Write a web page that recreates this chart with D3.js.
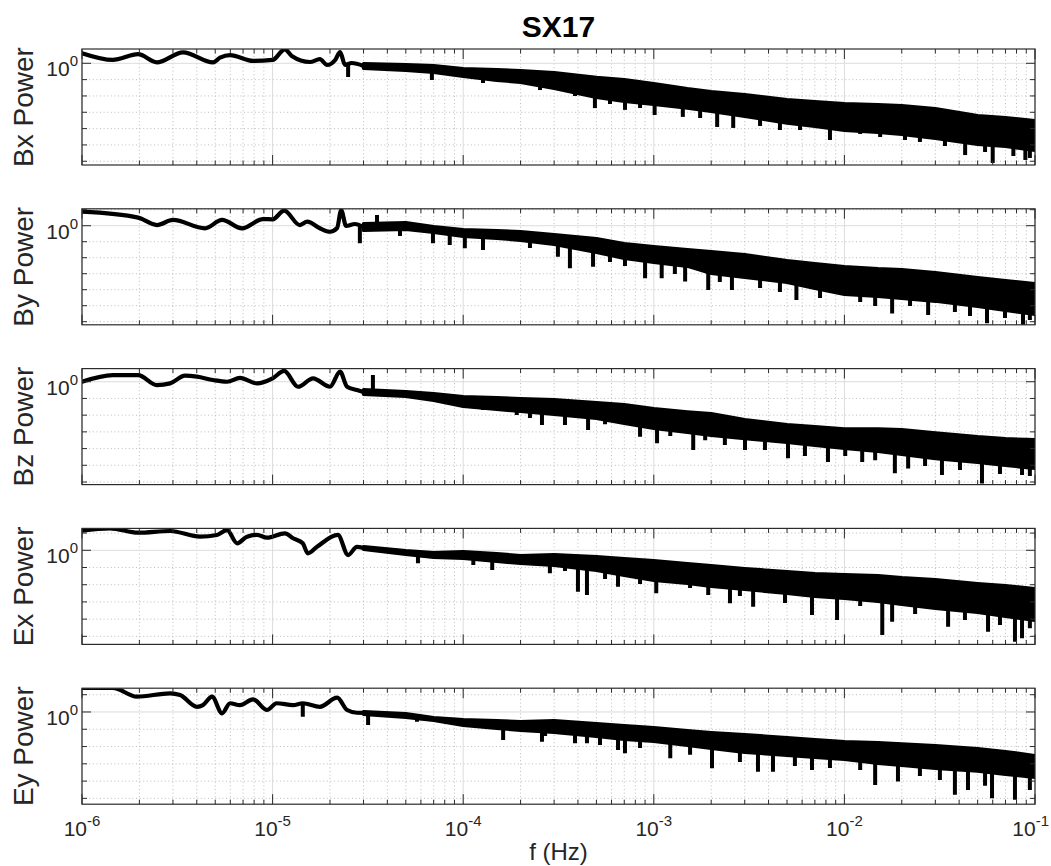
<!DOCTYPE html>
<html>
<head>
<meta charset="utf-8">
<script src="https://cdn.jsdelivr.net/npm/d3@7"></script>
<style>
  html, body { margin: 0; padding: 0; background: #fff; }
  svg { display: block; font-family: "Liberation Sans", Arial, Helvetica, sans-serif; }
</style>
</head>
<body>
<svg id="chart" width="1051" height="866"></svg>
<script>
// ---- Chart text ----
const chartTitle = "SX17";
const panelLabels = ["Bx Power", "By Power", "Bz Power", "Ex Power", "Ey Power"];
const xAxisLabel = "f (Hz)";
const xDomain = [1e-6, 1e-1];

// y-axis limits of each panel (power)
const bxLimits = [5.9e-7, 7.5];
const byLimits = [6.4e-7, 11.4];
const bzLimits = [7.0e-7, 6.1];
const exLimits = [3.4e-6, 18.7];
const eyLimits = [4.6e-6, 23.8];

// ---- Low-frequency part of each spectrum: [frequency (Hz), power] ----
const bxLine = [[1e-6, 4.1], [1.45e-6, 1.6], [1.97e-6, 3.6], [2.47e-6, 1.15], [3.39e-6, 4.7], [4.87e-6, 1.15],
  [5.3e-6, 2.2], [5.98e-6, 3.2], [7.89e-6, 1.4], [1e-5, 1.6], [1.16e-5, 7.2], [1.26e-5, 2.8], [1.57e-5, 1.2],
  [1.77e-5, 1.8], [1.93e-5, 0.79], [2.13e-5, 1.6], [2.26e-5, 4.9], [2.4e-5, 0.79], [2.6e-5, 1.04], [3e-5, 0.68]];
const byLine = [[1e-6, 7.5], [1.97e-6, 3.2], [2.47e-6, 1.1], [3.0e-6, 2.3], [4.42e-6, 0.69], [5.43e-6, 2.3],
  [6.91e-6, 0.69], [8.9e-6, 2.6], [1e-5, 2.5], [1.15e-5, 8.7], [1.39e-5, 1.1], [1.52e-5, 1.8], [1.77e-5, 0.69],
  [2.0e-5, 0.42], [2.18e-5, 0.72], [2.29e-5, 9.6], [2.43e-5, 0.96], [2.7e-5, 1.28], [3e-5, 0.82]];
const bzLine = [[1e-6, 1.0], [1.45e-6, 2.5], [1.97e-6, 2.5], [2.47e-6, 0.63], [2.9e-6, 0.80], [3.47e-6, 2.3],
  [4.01e-6, 2.0], [4.87e-6, 1.26], [5.77e-6, 1.0], [6.74e-6, 1.7], [8.28e-6, 0.80], [1e-5, 1.6], [1.15e-5, 4.4],
  [1.36e-5, 0.50], [1.63e-5, 1.6], [2.0e-5, 0.5], [2.26e-5, 4.0], [2.46e-5, 0.5], [2.77e-5, 0.32], [3e-5, 0.24]];
const exLine = [[1e-6, 13.8], [1.40e-6, 19], [1.97e-6, 10.5], [2.9e-6, 13.2], [4.16e-6, 6.2], [5.11e-6, 7.8],
  [5.77e-6, 15], [6.51e-6, 2.55], [7.34e-6, 6.2], [8.28e-6, 7.8], [9.35e-6, 5.4], [1.16e-5, 9.7], [1.28e-5, 5.0],
  [1.44e-5, 2.55], [1.53e-5, 0.67], [1.71e-5, 1.6], [2.2e-5, 7.8], [2.49e-5, 0.53], [2.77e-5, 1.6], [3e-5, 1.36]];
const eyLine = [[1e-6, 25], [1.45e-6, 25], [1.94e-6, 7.7], [2.9e-6, 12], [3.27e-6, 9.6], [4.01e-6, 2.0],
  [4.31e-6, 2.5], [4.81e-6, 7.7], [5.43e-6, 0.84], [5.98e-6, 3.2], [6.74e-6, 2.5], [7.89e-6, 5.4], [9.35e-6, 1.3],
  [1.05e-5, 3.2], [1.28e-5, 2.5], [1.44e-5, 3.2], [1.77e-5, 2.0], [2.18e-5, 6.7], [2.46e-5, 1.3], [2.77e-5, 0.9], [3e-5, 0.88]];

// ---- Dense part: visible upper and lower extent of the trace at these frequencies ----
const bandFreq = [3e-5, 5e-5, 7e-5, 1e-4, 1.5e-4, 2e-4, 3e-4, 5e-4, 7e-4, 1e-3, 1.5e-3, 2e-3, 3e-3, 5e-3, 7e-3,
  1e-2, 1.5e-2, 2e-2, 3e-2, 5e-2, 7e-2, 1e-1];

const bxHi = [1.2, 1.04, 0.91, 0.59, 0.52, 0.45, 0.34, 0.17, 0.126, 0.072, 0.035, 0.023, 0.015, 0.0075, 0.0057,
  0.0043, 0.0037, 0.0032, 0.0021, 7.9e-4, 5.9e-4, 3.9e-4];
const bxLo = [0.39, 0.29, 0.22, 0.126, 0.072, 0.054, 0.023, 0.0065, 0.0037, 0.0024, 0.0014, 9.1e-4, 4.5e-4, 1.7e-4,
  1.1e-4, 6.2e-5, 4.7e-5, 3.5e-5, 2.0e-5, 8.6e-6, 6.5e-6, 3.7e-6];

const byHi = [1.7, 1.97, 1.1, 0.72, 0.62, 0.54, 0.35, 0.197, 0.096, 0.062, 0.040, 0.030, 0.0197, 0.0083, 0.0054,
  0.0035, 0.0026, 0.0023, 0.0015, 7.2e-4, 4.7e-4, 3.0e-4];
const byLo = [0.40, 0.47, 0.30, 0.17, 0.128, 0.096, 0.054, 0.017, 0.0072, 0.0040, 0.0023, 8.3e-4, 4.7e-4, 2.3e-4,
  9.6e-5, 4.0e-5, 3.0e-5, 2.3e-5, 1.5e-5, 7.2e-6, 4.0e-6, 2.3e-6];

const bzHi = [0.42, 0.32, 0.24, 0.16, 0.139, 0.121, 0.106, 0.070, 0.053, 0.031, 0.020, 0.0153, 0.0067, 0.0034, 0.0026,
  0.0019, 0.0019, 0.0017, 0.0011, 6.4e-4, 4.9e-4, 4.3e-4];
const bzLo = [0.139, 0.106, 0.061, 0.027, 0.0176, 0.0134, 0.0088, 0.0051, 0.0026, 0.0013, 7.4e-4, 4.9e-4, 3.2e-4,
  1.86e-4, 1.23e-4, 8.1e-5, 5.4e-5, 3.6e-5, 2.0e-5, 1.18e-5, 7.8e-6, 5.2e-6];

const exHi = [2.03, 1.19, 0.91, 1.04, 0.80, 0.61, 0.70, 0.53, 0.41, 0.31, 0.21, 0.16, 0.107, 0.072, 0.055, 0.048,
  0.042, 0.032, 0.0245, 0.0144, 0.011, 0.0073];
const exLo = [0.91, 0.47, 0.31, 0.27, 0.18, 0.14, 0.107, 0.055, 0.028, 0.0144, 0.0096, 0.0064, 0.0043, 0.0025, 0.0017,
  0.0013, 8.6e-4, 5.8e-4, 3.4e-4, 2.0e-4, 1.16e-4, 6.8e-5];

const eyHi = [1.3, 1.0, 0.59, 0.45, 0.39, 0.34, 0.39, 0.26, 0.20, 0.155, 0.104, 0.080, 0.061, 0.041, 0.031, 0.024,
  0.021, 0.018, 0.0141, 0.0095, 0.0064, 0.0037];
const eyLo = [0.59, 0.39, 0.26, 0.136, 0.091, 0.070, 0.053, 0.031, 0.021, 0.016, 0.0095, 0.0064, 0.0037, 0.0025,
  0.0019, 0.00147, 8.6e-4, 6.6e-4, 4.4e-4, 3.0e-4, 2.0e-4, 1.34e-4];

// ---- Spikes reaching outside the envelope: [frequency (Hz), power] ----
const bxSpikes = [[2.49e-5, 0.145], [6.85e-5, 0.095], [1.27e-4, 0.062], [2.53e-4, 0.023], [3.22e-4, 0.0307],
  [3.86e-4, 0.00995], [4.91e-4, 0.0018], [5.89e-4, 0.00322], [7.06e-4, 0.0014], [8.47e-4, 0.00183], [1.01e-3, 6.8e-4],
  [1.42e-3, 5.2e-4], [1.75e-3, 4.47e-4], [2.15e-3, 1.26e-4], [2.61e-3, 1.1e-4], [3.61e-3, 1.45e-4], [4.59e-3, 8.2e-5],
  [5.85e-3, 8.2e-5], [8.4e-3, 2.0e-5], [1.21e-2, 4.7e-5], [1.54e-2, 3.07e-5], [2.08e-2, 2.0e-5], [2.49e-2, 1.52e-5],
  [3.37e-2, 8.6e-6], [4.3e-2, 2.4e-6], [5.47e-2, 3.7e-6], [6.0e-2, 7.9e-7], [7.7e-2, 2.1e-6], [8.9e-2, 1.2e-6],
  [9.4e-2, 1.59e-6]];
const bySpikes = [[2.87e-5, 0.079], [3.53e-5, 4.7], [4.66e-5, 0.227], [6.94e-5, 0.079], [8.5e-5, 0.062],
  [1.02e-4, 0.039], [1.27e-4, 0.030], [2.24e-4, 0.0404], [3.14e-4, 0.0115], [3.63e-4, 0.0022], [4.8e-4, 0.0027],
  [5.89e-4, 0.0054], [7.06e-4, 0.0030], [9.0e-4, 5.2e-4], [1.1e-3, 5.2e-4], [1.29e-3, 9.6e-4], [1.46e-3, 3.2e-4],
  [1.93e-3, 9.6e-5], [2.22e-3, 3.0e-4], [2.57e-3, 9.6e-5], [3.61e-3, 1.28e-4], [4.59e-3, 7.2e-5], [5.6e-3, 2.3e-5],
  [7.45e-3, 3.0e-5], [1.21e-2, 1.7e-5], [1.45e-2, 9.6e-6], [1.78e-2, 3.3e-6], [2.21e-2, 9.6e-6], [2.75e-2, 2.6e-6],
  [3.8e-2, 4.0e-6], [4.56e-2, 2.3e-6], [5.6e-2, 7.9e-7], [6.96e-2, 1.7e-6], [8.65e-2, 6.3e-7], [9.4e-2, 1.28e-6]];
const bzSpikes = [[3.36e-5, 2.5], [1.27e-4, 0.020], [1.91e-4, 0.0101], [2.24e-4, 0.0067], [2.59e-4, 0.0026],
  [3.42e-4, 0.0026], [4.52e-4, 0.0013], [5.55e-4, 0.0029], [8.47e-4, 5.1e-4], [1.04e-3, 2.05e-4], [1.22e-3, 5.6e-4],
  [1.61e-3, 8.1e-5], [1.86e-3, 3.2e-4], [2.36e-3, 1.62e-4], [3.01e-3, 8.1e-5], [3.83e-3, 8.1e-5], [5.06e-3, 2.6e-5],
  [6.21e-3, 3.6e-5], [8.2e-3, 1.6e-5], [1.01e-2, 3.6e-5], [1.24e-2, 1.6e-5], [1.45e-2, 2.0e-5], [1.84e-2, 3.3e-6],
  [2.16e-2, 6.5e-6], [2.65e-2, 9.0e-6], [3.25e-2, 2.6e-6], [4.04e-2, 5.2e-6], [5.27e-2, 8.2e-7], [6.55e-2, 3.0e-6],
  [8.55e-2, 2.6e-6], [9.4e-2, 2.3e-6]];
const exSpikes = [[5.79e-5, 0.175], [1.13e-4, 0.14], [1.42e-4, 0.072], [2.85e-4, 0.046], [3.42e-4, 0.0626],
  [4.0e-4, 0.0039], [4.46e-4, 0.0025], [5.55e-4, 0.0215], [6.49e-4, 0.0077], [8.47e-4, 0.011], [1.03e-3, 0.0032],
  [1.55e-3, 0.0064], [1.93e-3, 0.0025], [2.51e-3, 8.3e-4], [2.83e-3, 0.0022], [3.32e-3, 5.3e-4], [4.88e-3, 8.6e-4],
  [6.76e-3, 1.73e-4], [9.15e-3, 8.9e-5], [1.21e-2, 5.8e-4], [1.58e-2, 1.19e-5], [1.78e-2, 7.1e-5], [2.35e-2, 2.0e-4],
  [3.5e-2, 3.6e-5], [4.29e-2, 8.9e-5], [5.67e-2, 1.85e-5], [6.55e-2, 4.5e-5], [7.85e-2, 4.9e-6], [8.55e-2, 7.7e-6],
  [9.4e-2, 3.0e-5]];
const eySpikes = [[1.44e-5, 0.53], [3.17e-5, 0.177], [5.72e-5, 0.275], [1.13e-4, 0.141], [1.62e-4, 0.024],
  [2.59e-4, 0.019], [2.69e-4, 0.041], [3.86e-4, 0.0155], [4.46e-4, 0.0155], [5.22e-4, 0.0124], [6.49e-4, 0.0064],
  [7.06e-4, 0.0041], [8.47e-4, 0.0083], [1.22e-3, 0.0021], [1.55e-3, 0.0033], [2.02e-3, 5.6e-4], [2.83e-3, 0.00129],
  [3.52e-3, 3.5e-4], [4.22e-3, 3.5e-4], [5.5e-3, 7.6e-4], [6.76e-3, 4.4e-4], [8.4e-3, 5.8e-4], [1.21e-2, 4.4e-4],
  [1.45e-2, 6.0e-5], [1.91e-2, 9.4e-5], [2.49e-2, 2.0e-4], [3.17e-2, 1.17e-4], [3.8e-2, 1.6e-5], [4.45e-2, 3.1e-5],
  [5.47e-2, 5.3e-5], [5.95e-2, 1.03e-5], [7.85e-2, 8.2e-6], [9.4e-2, 3.1e-5]];

// Per-panel table assembled from the arrays above
const panels = [
  { label: panelLabels[0], yLim: bxLimits, line: bxLine, hi: bxHi, lo: bxLo, spikes: bxSpikes },
  { label: panelLabels[1], yLim: byLimits, line: byLine, hi: byHi, lo: byLo, spikes: bySpikes },
  { label: panelLabels[2], yLim: bzLimits, line: bzLine, hi: bzHi, lo: bzLo, spikes: bzSpikes },
  { label: panelLabels[3], yLim: exLimits, line: exLine, hi: exHi, lo: exLo, spikes: exSpikes },
  { label: panelLabels[4], yLim: eyLimits, line: eyLine, hi: eyHi, lo: eyLo, spikes: eySpikes }
];

// ---- Layout ----
const W = 1051;
const plotLeft = 82, plotRight = 1035;
const plotTop = 49, panelStep = 159.8, panelH = 116;
const bandStroke = 3.4;
const axisColor = "#2b2b2b";
const textColor = "#262626";

const svg = d3.select("#chart");
const x = d3.scaleLog().domain(xDomain).range([plotLeft, plotRight]);

const isDecade = v => Math.abs(Math.log10(v) - Math.round(Math.log10(v))) < 1e-9;
const xTicks = x.ticks();
const xMajor = xTicks.filter(isDecade);
const xMinor = xTicks.filter(v => !isDecade(v));

// Title
svg.append("text")
  .attr("x", (plotLeft + plotRight) / 2).attr("y", 37)
  .attr("text-anchor", "middle")
  .attr("font-size", 30).attr("font-weight", "bold").attr("fill", "#000")
  .text(chartTitle);

panels.forEach((p, i) => {
  const top = plotTop + i * panelStep;
  const g = svg.append("g").attr("transform", `translate(0,${top})`);
  const y = d3.scaleLog().domain(p.yLim).range([panelH, 0]);
  const yDecades = y.ticks().filter(isDecade);

  // grid: dotted minor, solid light major
  const grid = g.append("g");
  grid.selectAll(".xminor").data(xMinor).join("line")
    .attr("x1", d => x(d)).attr("x2", d => x(d)).attr("y1", 0).attr("y2", panelH)
    .attr("stroke", "#b5b5b5").attr("stroke-width", 0.9).attr("stroke-dasharray", "1,2.6");
  grid.selectAll(".yminor").data(yDecades.filter(d => d !== 1)).join("line")
    .attr("x1", plotLeft).attr("x2", plotRight).attr("y1", d => y(d)).attr("y2", d => y(d))
    .attr("stroke", "#b5b5b5").attr("stroke-width", 0.9).attr("stroke-dasharray", "1,2.6");
  grid.selectAll(".xmajor").data(xMajor).join("line")
    .attr("x1", d => x(d)).attr("x2", d => x(d)).attr("y1", 0).attr("y2", panelH)
    .attr("stroke", "#dcdcdc").attr("stroke-width", 1);
  grid.append("line")
    .attr("x1", plotLeft).attr("x2", plotRight).attr("y1", y(1)).attr("y2", y(1))
    .attr("stroke", "#dcdcdc").attr("stroke-width", 1);

  // data, clipped to the axes box
  const clipId = "clip-" + i;
  g.append("clipPath").attr("id", clipId)
    .append("rect").attr("x", plotLeft).attr("y", 0).attr("width", plotRight - plotLeft).attr("height", panelH);
  const dg = g.append("g").attr("clip-path", `url(#${clipId})`);

  const band = bandFreq.map((f, k) => ({ f, hi: p.hi[k], lo: p.lo[k] }));

  // the envelope values give the outer edge of the inked trace, so the
  // outline (drawn with a round stroke) is inset by half the stroke width
  const half = bandStroke / 2;
  const midPx = d => (y(d.hi) + y(d.lo)) / 2;
  dg.append("path")
    .datum(band)
    .attr("d", d3.area()
      .x(d => x(d.f))
      .y0(d => Math.max(y(d.lo) - half, midPx(d)))
      .y1(d => Math.min(y(d.hi) + half, midPx(d))))
    .attr("fill", "#000").attr("stroke", "#000").attr("stroke-width", bandStroke).attr("stroke-linejoin", "round");

  dg.append("path")
    .datum(p.line)
    .attr("d", d3.line().x(d => x(d[0])).y(d => y(d[1])).curve(d3.curveMonotoneX))
    .attr("fill", "none").attr("stroke", "#000").attr("stroke-width", 4.2)
    .attr("stroke-linejoin", "round").attr("stroke-linecap", "round");

  // centre of the trace, used as the base of each spike
  const basePts = p.line.filter(d => d[0] < bandFreq[0]).map(d => [d[0], y(d[1])])
    .concat(band.map(d => [d.f, y(Math.sqrt(d.hi * d.lo))]));
  const basePx = d3.scaleLog().domain(basePts.map(d => d[0])).range(basePts.map(d => d[1])).clamp(true);

  dg.selectAll(".spike").data(p.spikes).join("line")
    .attr("x1", d => x(d[0])).attr("x2", d => x(d[0]))
    .attr("y1", d => basePx(d[0])).attr("y2", d => y(d[1]))
    .attr("stroke", "#000").attr("stroke-width", 4);

  // axes box
  g.append("rect")
    .attr("x", plotLeft).attr("y", 0).attr("width", plotRight - plotLeft).attr("height", panelH)
    .attr("fill", "none").attr("stroke", axisColor).attr("stroke-width", 1.2);

  // ticks (inward on all four sides)
  const tk = g.append("g").attr("stroke", axisColor).attr("stroke-width", 1);
  xTicks.forEach(d => {
    const len = isDecade(d) ? 10 : 4.5;
    tk.append("line").attr("x1", x(d)).attr("x2", x(d)).attr("y1", panelH).attr("y2", panelH - len);
    tk.append("line").attr("x1", x(d)).attr("x2", x(d)).attr("y1", 0).attr("y2", len);
  });
  yDecades.forEach(d => {
    const len = d === 1 ? 9 : 5;
    tk.append("line").attr("x1", plotLeft).attr("x2", plotLeft + len).attr("y1", y(d)).attr("y2", y(d));
    tk.append("line").attr("x1", plotRight).attr("x2", plotRight - len).attr("y1", y(d)).attr("y2", y(d));
  });

  // y tick label 10^0
  const yl = g.append("text")
    .attr("x", 78).attr("y", y(1) + 13)
    .attr("text-anchor", "end").attr("font-size", 21).attr("fill", textColor);
  yl.append("tspan").text("10");
  yl.append("tspan").attr("dy", -10).attr("font-size", 15).text(Math.round(Math.log10(1)));

  // panel label
  g.append("text")
    .attr("transform", `translate(33,${panelH / 2}) rotate(-90)`)
    .attr("text-anchor", "middle").attr("font-size", 28).attr("fill", textColor)
    .text(p.label);

  // x tick labels on the bottom panel only
  if (i === panels.length - 1) {
    xMajor.forEach(d => {
      const t = g.append("text")
        .attr("x", x(d)).attr("y", panelH + 32)
        .attr("text-anchor", "middle").attr("font-size", 21).attr("fill", textColor);
      t.append("tspan").text("10");
      t.append("tspan").attr("dy", -10).attr("font-size", 15).text(Math.round(Math.log10(d)));
      // keep the rightmost label inside the figure
      const w = t.node().getComputedTextLength();
      if (x(d) + w / 2 > W - 2) t.attr("x", W - 2 - w / 2);
    });
    g.append("text")
      .attr("x", (plotLeft + plotRight) / 2).attr("y", panelH + 56)
      .attr("text-anchor", "middle").attr("font-size", 24).attr("fill", textColor)
      .text(xAxisLabel);
  }
});
</script>
</body>
</html>
